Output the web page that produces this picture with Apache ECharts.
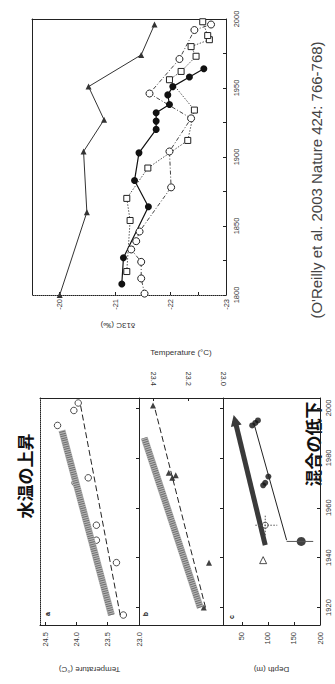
<!DOCTYPE html>
<html>
<head>
<meta charset="utf-8">
<script src="https://cdn.jsdelivr.net/npm/echarts@6/dist/echarts.min.js"></script>
<style>
html, body { margin: 0; padding: 0; background: #fff; }
#chart { width: 335px; height: 684px; }
</style>
</head>
<body>
<div id="chart"></div>
<script>
// upper panel: d13C of sediment cores against year
const coreTriYears = [1800, 1860, 1904, 1927, 1951, 1974, 1996];
const coreTriVals = [-20.0, -20.49, -20.43, -20.8, -20.52, -21.47, -21.71];
const coreDotYears = [1808, 1827, 1864, 1883, 1903, 1920, 1926, 1932, 1938, 1945, 1951, 1958, 1964];
const coreDotVals = [-21.12, -21.15, -21.6, -21.35, -21.43, -21.74, -21.74, -21.74, -21.98, -21.95, -22.04, -22.34, -22.6];
const coreRingYears = [1801, 1812, 1824, 1833, 1839, 1846, 1878, 1904, 1928, 1946, 1971, 1992, 1996];
const coreRingVals = [-21.53, -21.47, -21.47, -21.29, -21.38, -21.44, -22.01, -21.98, -22.37, -21.62, -22.16, -22.43, -22.73];
const coreBoxYears = [1817, 1854, 1870, 1892, 1912, 1934, 1956, 1962, 1973, 1980, 1985, 1988, 1998];
const coreBoxVals = [-21.21, -21.27, -21.21, -21.59, -22.31, -22.43, -21.98, -22.19, -22.46, -22.37, -22.7, -22.67, -22.58];
const coreYearLabels = [1800, 1850, 1900, 1950, 2000];
const coreYearTicks = [1800, 1825, 1850, 1875, 1900, 1925, 1950, 1975, 2000];
const coreValLabels = [-23, -22, -21, -20];

// lower panels: a surface temperature, b deep temperature, c mixing depth
const yearLabels = [1920, 1940, 1960, 1980, 2000];
const aObsYears = [1917, 1938, 1947, 1953, 1970, 1972, 1993, 1999, 2002];
const aObsTemps = [23.25, 23.36, 23.68, 23.68, 24.02, 23.81, 24.3, 24.04, 23.97];
const aFitYears = [1917, 2002];
const aFitTemps = [23.3, 23.94];
const aBandYears = [1917, 1991];
const aBandTemps = [23.44, 24.23];
const aTempLabels = [23.0, 23.5, 24.0, 24.5];

const bObsYears = [1920, 1938, 1972, 1973, 1974, 2001];
const bObsTemps = [23.11, 23.08, 23.29, 23.27, 23.31, 23.4];
const bFitYears = [1920, 2000];
const bFitTemps = [23.1, 23.39];
const bBandYears = [1920, 1988];
const bBandTemps = [23.13, 23.45];
const bTempLabels = [23.0, 23.2, 23.4];

const cDotYears = [1946.5, 1969, 1970, 1972.5, 1993, 1994, 1995];
const cDotDepths = [164, 91, 95, 101, 70, 76, 81];
const cDotErrDepths = [136, 187];
const cThinYears = [1947, 1994];
const cThinDepths = [136, 73];
const cArrowYears = [1945, 1995];
const cArrowDepths = [95, 37];
const cRingYears = [1953];
const cRingDepths = [95];
const cRingErrDepths = [76, 118];
const cRingErrYears = [1949, 1957];
const cTriYears = [1939];
const cTriDepths = [91];
const depthLabels = [50, 100, 150, 200];

const ink = "#222";
const font = "Liberation Sans";
const zip = (xs, ys) => xs.map((x, i) => [x, ys[i]]);

const chart = echarts.init(document.getElementById("chart"), null, { renderer: "svg" });

function frameAxis(grid, position, extra) {
  return Object.assign({
    type: "value", gridIndex: grid, position: position,
    axisLine: { show: true, onZero: false, lineStyle: { color: ink, width: 1 } },
    axisTick: { show: false }, axisLabel: { show: false }, splitLine: { show: false },
  }, extra);
}
const labelStyle = { rotate: 90, fontSize: 7.5, color: "#333", fontFamily: font };
const sideText = (text, x, y, rotation, font, fill) => ({
  type: "text", x: x, y: y, rotation: rotation,
  style: { text: text, font: font, fill: fill, textAlign: "center", textVerticalAlign: "middle" },
});

chart.setOption({
  animation: false,
  backgroundColor: "#fff",
  grid: [
    { left: 32, top: 19, width: 194, height: 276 },
    { left: 40, top: 398, width: 99, height: 227 },
    { left: 139, top: 398, width: 84, height: 227 },
    { left: 223, top: 398, width: 97, height: 227 },
  ],
  xAxis: [
    frameAxis(0, "bottom", {
      min: -23, max: -19.5, inverse: true,
      axisLine: { show: true, onZero: false, lineStyle: { color: ink, type: "dotted" } },
      axisTick: { show: true, inside: true, length: 3, customValues: [-23, -22.5, -22, -21, -20], lineStyle: { color: ink } },
      axisLabel: Object.assign({ show: true, margin: 4, customValues: coreValLabels }, labelStyle),
    }),
    frameAxis(0, "top", { min: -23, max: -19.5, inverse: true }),
    frameAxis(1, "bottom", {
      min: 23, max: 24.58, inverse: true,
      axisTick: { show: true, inside: true, length: 3, customValues: aTempLabels, lineStyle: { color: ink } },
      axisLabel: Object.assign({ show: true, margin: 7, customValues: aTempLabels, formatter: (v) => v.toFixed(1) }, labelStyle),
      name: "Temperature (°C)", nameLocation: "middle", nameGap: 40, nameRotate: 180,
      nameTextStyle: { fontSize: 8, color: "#333", fontFamily: font },
    }),
    frameAxis(1, "top", { min: 23, max: 24.58, inverse: true }),
    frameAxis(2, "top", {
      min: 23, max: 23.48, inverse: true,
      axisTick: { show: true, inside: true, length: 3, customValues: bTempLabels, lineStyle: { color: ink } },
      axisLabel: Object.assign({ show: true, margin: 12, customValues: bTempLabels, formatter: (v) => v.toFixed(1) }, labelStyle),
      name: "Temperature (°C)", nameLocation: "middle", nameGap: 42,
      nameTextStyle: { fontSize: 8, color: "#333", fontFamily: font },
    }),
    frameAxis(2, "bottom", { min: 23, max: 23.48, inverse: true }),
    frameAxis(3, "bottom", {
      min: 14, max: 200,
      axisTick: { show: true, inside: true, length: 3, customValues: depthLabels, lineStyle: { color: ink } },
      axisLabel: Object.assign({ show: true, margin: 7, customValues: depthLabels }, labelStyle),
      name: "Depth (m)", nameLocation: "middle", nameGap: 40, nameRotate: 180,
      nameTextStyle: { fontSize: 8, color: "#333", fontFamily: font },
    }),
    frameAxis(3, "top", { min: 14, max: 200 }),
  ],
  yAxis: [
    frameAxis(0, "right", {
      min: 1800, max: 2000,
      axisTick: { show: true, inside: true, length: 3, customValues: coreYearTicks, lineStyle: { color: ink } },
      axisLabel: Object.assign({ show: true, margin: 6, customValues: coreYearLabels, formatter: (v) => String(v) }, labelStyle),
    }),
    frameAxis(0, "left", { min: 1800, max: 2000 }),
    frameAxis(1, "left", {
      min: 1913, max: 2004,
      axisLine: { show: true, onZero: false, lineStyle: { color: ink, type: "dotted" } },
    }),
    frameAxis(2, "left", {
      min: 1913, max: 2004,
      axisTick: { show: true, inside: false, length: 3, customValues: yearLabels, lineStyle: { color: ink } },
    }),
    frameAxis(3, "left", {
      min: 1913, max: 2004,
      axisTick: { show: true, inside: false, length: 3, customValues: yearLabels, lineStyle: { color: ink } },
    }),
    frameAxis(3, "right", {
      min: 1913, max: 2004,
      axisTick: { show: true, inside: true, length: 3, customValues: yearLabels, lineStyle: { color: ink } },
      axisLabel: Object.assign({ show: true, margin: 4, customValues: yearLabels, formatter: (v) => String(v) }, labelStyle),
    }),
  ],
  series: [
    {
      type: "line", xAxisIndex: 0, yAxisIndex: 0, data: zip(coreTriVals, coreTriYears),
      symbol: "triangle", symbolSize: 6, itemStyle: { color: "#333" },
      lineStyle: { color: "#333", width: 1 },
    },
    {
      type: "line", xAxisIndex: 0, yAxisIndex: 0, data: zip(coreBoxVals, coreBoxYears),
      symbol: "rect", symbolSize: 6, itemStyle: { color: "#fff", borderColor: ink, borderWidth: 1 },
      lineStyle: { color: "#555", width: 1, type: [1.5, 1.5] },
    },
    {
      type: "line", xAxisIndex: 0, yAxisIndex: 0, data: zip(coreRingVals, coreRingYears),
      symbol: "circle", symbolSize: 7, itemStyle: { color: "#fff", borderColor: ink, borderWidth: 1 },
      lineStyle: { color: "#444", width: 1, type: [4, 2, 1, 2] },
    },
    {
      type: "line", xAxisIndex: 0, yAxisIndex: 0, data: zip(coreDotVals, coreDotYears),
      symbol: "circle", symbolSize: 7, itemStyle: { color: "#111" },
      lineStyle: { color: "#111", width: 1.2 },
    },
    // panel a
    {
      type: "line", xAxisIndex: 2, yAxisIndex: 2, data: zip(aBandTemps, aBandYears), showSymbol: false,
      lineStyle: { color: "#b4b4b4", width: 7 },
    },
    {
      type: "line", xAxisIndex: 2, yAxisIndex: 2, data: zip(aBandTemps, aBandYears), showSymbol: false,
      lineStyle: { color: "#6e6e6e", width: 6, type: [1, 1.2] },
    },
    {
      type: "line", xAxisIndex: 2, yAxisIndex: 2, data: zip(aFitTemps, aFitYears), showSymbol: false,
      lineStyle: { color: ink, width: 1, type: [6, 3] },
    },
    {
      type: "scatter", xAxisIndex: 2, yAxisIndex: 2, data: zip(aObsTemps, aObsYears),
      symbol: "circle", symbolSize: 6.5, itemStyle: { color: "#fff", borderColor: ink, borderWidth: 1 },
    },
    // panel b
    {
      type: "line", xAxisIndex: 4, yAxisIndex: 3, data: zip(bBandTemps, bBandYears), showSymbol: false,
      lineStyle: { color: "#b4b4b4", width: 7 },
    },
    {
      type: "line", xAxisIndex: 4, yAxisIndex: 3, data: zip(bBandTemps, bBandYears), showSymbol: false,
      lineStyle: { color: "#6e6e6e", width: 6, type: [1, 1.2] },
    },
    {
      type: "line", xAxisIndex: 4, yAxisIndex: 3, data: zip(bFitTemps, bFitYears), showSymbol: false,
      lineStyle: { color: ink, width: 1, type: [6, 3] },
    },
    {
      type: "scatter", xAxisIndex: 4, yAxisIndex: 3, data: zip(bObsTemps, bObsYears),
      symbol: "triangle", symbolSize: 6, itemStyle: { color: "#111" },
    },
    // panel c
    {
      type: "lines", coordinateSystem: "cartesian2d", xAxisIndex: 6, yAxisIndex: 4,
      data: [{ coords: zip(cArrowDepths, cArrowYears) }],
      symbol: ["none", "triangle"], symbolSize: 11,
      lineStyle: { color: "#3a3a3a", width: 5, opacity: 1 },
    },
    {
      type: "line", xAxisIndex: 6, yAxisIndex: 4, data: zip(cThinDepths, cThinYears), showSymbol: false,
      lineStyle: { color: ink, width: 1 },
    },
    {
      type: "line", xAxisIndex: 6, yAxisIndex: 4, data: zip(cDotErrDepths, [cDotYears[0], cDotYears[0]]), showSymbol: false,
      lineStyle: { color: "#555", width: 1 },
    },
    {
      type: "line", xAxisIndex: 6, yAxisIndex: 4, data: zip(cRingErrDepths, [cRingYears[0], cRingYears[0]]), showSymbol: false,
      lineStyle: { color: "#555", width: 1, type: [1.5, 1.5] },
    },
    {
      type: "line", xAxisIndex: 6, yAxisIndex: 4, data: zip([cRingDepths[0], cRingDepths[0]], cRingErrYears), showSymbol: false,
      lineStyle: { color: "#555", width: 1, type: [1.5, 1.5] },
    },
    {
      type: "scatter", xAxisIndex: 6, yAxisIndex: 4, data: zip(cDotDepths, cDotYears),
      symbol: "circle", symbolSize: (v, p) => (p.dataIndex === 0 ? 9 : 6), itemStyle: { color: "#111" },
    },
    {
      type: "scatter", xAxisIndex: 6, yAxisIndex: 4, data: zip(cRingDepths, cRingYears),
      symbol: "circle", symbolSize: 6, itemStyle: { color: "#fff", borderColor: ink, borderWidth: 1 },
    },
    {
      type: "scatter", xAxisIndex: 6, yAxisIndex: 4, data: zip(cTriDepths, cTriYears),
      symbol: "triangle", symbolSize: 7, itemStyle: { color: "#fff", borderColor: ink, borderWidth: 1 },
    },
  ],
  graphic: [
    sideText("δ13C (‰)", 118, 325, Math.PI, "8px 'Liberation Sans'", "#333"),
    sideText("水温の上昇", 24, 476, Math.PI / 2, "bold 17px 'Noto Sans CJK JP'", "#111"),
    sideText("混合の低下", 312, 444, Math.PI / 2, "bold 17px 'Noto Sans CJK JP'", "#111"),
    sideText("(O'Reilly et al. 2003 Nature 424: 766-768)", 316, 180, Math.PI / 2, "15px 'Liberation Sans'", "#444"),
    sideText("a", 47, 614, Math.PI / 2, "bold 7px 'Liberation Sans'", "#111"),
    sideText("b", 145, 614, Math.PI / 2, "bold 7px 'Liberation Sans'", "#111"),
    sideText("c", 231, 617, Math.PI / 2, "bold 7px 'Liberation Sans'", "#111"),
  ],
});
</script>
</body>
</html>
